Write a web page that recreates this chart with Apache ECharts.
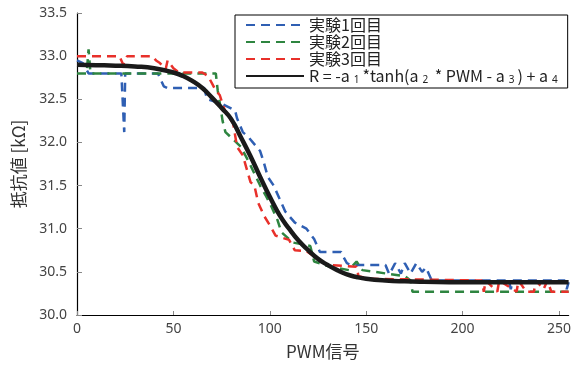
<!DOCTYPE html>
<html>
<head>
<meta charset="utf-8">
<script src="https://cdn.jsdelivr.net/npm/echarts@6/dist/echarts.min.js"></script>
<style>
  html, body { margin: 0; padding: 0; background: #fff; }
  #main { width: 574px; height: 365px; }
</style>
</head>
<body>
<div id="main"></div>
<script>
// values: [PWM, resistance kΩ]
const run1 = [
  [0, 32.95], [3, 32.92], [6, 32.8], [23, 32.8], [24.5, 32.12], [25, 32.8],
  [42, 32.8], [45, 32.65], [47, 32.63], [66, 32.63], [67.5, 32.5], [75, 32.45],
  [82, 32.37], [83, 32.28], [86, 32.12], [89, 32.06], [95, 31.9], [97, 31.76],
  [99, 31.6], [102, 31.5], [105, 31.35], [108, 31.2], [113, 31.07], [119, 31.0],
  [123, 30.88], [126, 30.73], [137, 30.73], [138, 30.68], [140, 30.6], [142, 30.58],
  [160, 30.58], [162, 30.47], [165, 30.6], [168, 30.48], [170, 30.6], [173, 30.48],
  [176, 30.6], [179, 30.5], [181, 30.55], [184, 30.4], [224, 30.4], [225, 30.3],
  [226, 30.4], [253, 30.4], [254, 30.3], [255, 30.38]
];
const run2 = [
  [0, 32.8], [5, 32.8], [6, 33.08], [7, 32.8], [72, 32.8], [73, 32.6], [74.5, 32.4],
  [75.5, 32.25], [77, 32.12], [78, 32.1], [85, 31.95], [89, 31.78], [92, 31.64],
  [95, 31.5], [98, 31.38], [101, 31.25], [104, 31.1], [106, 30.96], [112, 30.84],
  [121, 30.8], [123, 30.62], [131, 30.56], [141, 30.52], [145, 30.62], [148, 30.52],
  [170, 30.45], [173, 30.4], [174, 30.27], [255, 30.27]
];
const run3 = [
  [0, 33.0], [22, 33.0], [24, 32.9], [26, 33.0], [39, 33.0], [41, 32.95], [43, 32.92],
  [46, 32.85], [47, 32.95], [50, 32.86], [53, 32.81], [65, 32.81], [68, 32.77],
  [72, 32.6], [74, 32.55], [77, 32.35], [81, 32.22], [83, 31.95], [86, 31.85],
  [90, 31.54], [92, 31.5], [94, 31.3], [97, 31.15], [100, 31.04], [103, 30.92],
  [110, 30.87], [113, 30.75], [119, 30.74], [127, 30.62], [130, 30.58], [145, 30.56],
  [146, 30.45], [152, 30.42], [153, 30.4], [210, 30.4], [211, 30.27], [212, 30.4],
  [218, 30.27], [219, 30.4], [228, 30.27], [229, 30.4], [233, 30.27], [237, 30.27],
  [238, 30.4], [242, 30.3], [244, 30.4], [246, 30.27], [255, 30.27]
];
const fitCurve = [
  [0, 32.9], [10, 32.895], [20, 32.89], [30, 32.88], [40, 32.86], [50, 32.81],
  [55, 32.77], [60, 32.71], [65, 32.63], [70, 32.52], [75, 32.4], [80, 32.27],
  [85, 32.06], [90, 31.84], [95, 31.6], [100, 31.37], [105, 31.16], [110, 31.0],
  [115, 30.86], [120, 30.75], [125, 30.65], [130, 30.58], [135, 30.52], [140, 30.47],
  [145, 30.44], [150, 30.42], [160, 30.4], [170, 30.39], [180, 30.385], [200, 30.38],
  [220, 30.38], [255, 30.38]
];
const seriesNames = ['実験1回目', '実験2回目', '実験3回目', 'fit'];
const fitLabel = 'R = -a{sub|1}*tanh(a{sub|2} * PWM - a{sub|3}) + a{sub|4}';

const chart = echarts.init(document.getElementById('main'));
const font = '"Noto Sans", "Noto Sans CJK JP", sans-serif';
const jpFont = '"Noto Sans CJK JP", "Noto Sans", sans-serif';

const dashed = (color) => ({ color: color, width: 2.5, type: [9, 6] });

chart.setOption({
  animation: false,
  grid: { left: 77, right: 3, top: 13, bottom: 50 },
  legend: {
    orient: 'vertical',
    left: 235,
    top: 15,
    itemWidth: 58,
    itemHeight: 14,
    itemGap: 1,
    padding: [2, 10, 3, 10],
    borderColor: '#000',
    borderWidth: 1,
    backgroundColor: '#fff',
    data: seriesNames,
    itemStyle: { opacity: 0 },
    formatter: (name) => (name === 'fit' ? fitLabel : name),
    textStyle: {
      fontFamily: jpFont,
      fontSize: 16,
      color: '#222',
      rich: {
        sub: { fontSize: 10, fontFamily: font, verticalAlign: 'bottom', padding: [8, 3, 0, 4] }
      }
    }
  },
  xAxis: {
    type: 'value',
    min: 0,
    max: 255,
    interval: 50,
    name: 'PWM信号',
    nameLocation: 'middle',
    nameGap: 28,
    nameTextStyle: { fontFamily: jpFont, fontSize: 17, color: '#333' },
    axisLine: { lineStyle: { color: '#000', width: 1.2 } },
    axisTick: { inside: true, length: 4, lineStyle: { color: '#888' } },
    axisLabel: { fontFamily: font, fontSize: 14, color: '#444', margin: 7 },
    splitLine: { show: false }
  },
  yAxis: {
    type: 'value',
    min: 30,
    max: 33.5,
    interval: 0.5,
    name: '抵抗値 [kΩ]',
    nameLocation: 'middle',
    nameGap: 50,
    nameTextStyle: { fontFamily: jpFont, fontSize: 17, color: '#333' },
    axisLine: { show: true, lineStyle: { color: '#000', width: 1.2 } },
    axisTick: { show: true, inside: true, length: 5, lineStyle: { color: '#888' } },
    axisLabel: {
      fontFamily: font, fontSize: 14, color: '#444', margin: 10,
      formatter: (v) => v.toFixed(1)
    },
    splitLine: { show: false }
  },
  series: [
    { name: seriesNames[0], type: 'line', data: run1, symbol: 'none', lineStyle: dashed('#2f5fb3'), itemStyle: { color: '#2f5fb3' } },
    { name: seriesNames[1], type: 'line', data: run2, symbol: 'none', lineStyle: dashed('#2e8540'), itemStyle: { color: '#2e8540' } },
    { name: seriesNames[2], type: 'line', data: run3, symbol: 'none', lineStyle: dashed('#e8302a'), itemStyle: { color: '#e8302a' } },
    { name: seriesNames[3], type: 'line', data: fitCurve, symbol: 'none', smooth: true,
      lineStyle: { color: '#1a1a1a', width: 4.5 }, itemStyle: { color: '#1a1a1a' } }
  ]
});
</script>
</body>
</html>
